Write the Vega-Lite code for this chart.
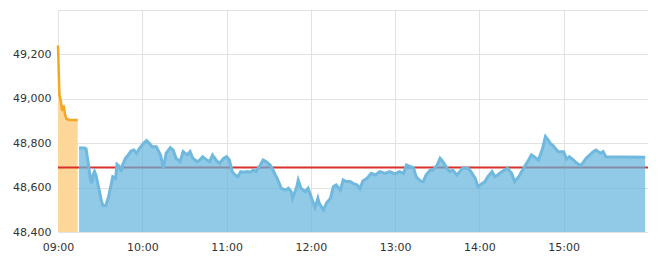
{
  "$schema": "https://vega.github.io/schema/vega-lite/v6.json",
  "autosize": {"type": "none"},
  "width": 590,
  "height": 222,
  "padding": {"left": 58, "top": 10, "right": 14, "bottom": 26},
  "background": "white",
  "config": {
    "view": {"stroke": null},
    "axis": {"labelFont": "DejaVu Sans", "labelFontSize": 11, "labelColor": "#333333", "gridColor": "#e2e2e2", "gridWidth": 1, "domain": false, "ticks": false, "title": null}
  },
  "datasets": {
    "pre": [
      {"t": "2024-01-02T09:00", "v": 49240}, {"t": "2024-01-02T09:01", "v": 49020}, {"t": "2024-01-02T09:02", "v": 48990},
      {"t": "2024-01-02T09:03", "v": 48945}, {"t": "2024-01-02T09:04", "v": 48970}, {"t": "2024-01-02T09:05", "v": 48930},
      {"t": "2024-01-02T09:06", "v": 48910}, {"t": "2024-01-02T09:08", "v": 48905}, {"t": "2024-01-02T09:14", "v": 48905}
    ],
    "ref": [{"v": 48690}],
    "main": [
      {"t": "2024-01-02T09:15", "v": 48780}, {"t": "2024-01-02T09:17", "v": 48778}, {"t": "2024-01-02T09:19", "v": 48778}, {"t": "2024-01-02T09:20", "v": 48774},
      {"t": "2024-01-02T09:22", "v": 48688}, {"t": "2024-01-02T09:23", "v": 48643}, {"t": "2024-01-02T09:24", "v": 48620}, {"t": "2024-01-02T09:25", "v": 48657},
      {"t": "2024-01-02T09:26", "v": 48672}, {"t": "2024-01-02T09:27", "v": 48657}, {"t": "2024-01-02T09:29", "v": 48598}, {"t": "2024-01-02T09:31", "v": 48537},
      {"t": "2024-01-02T09:32", "v": 48519}, {"t": "2024-01-02T09:34", "v": 48519}, {"t": "2024-01-02T09:36", "v": 48559}, {"t": "2024-01-02T09:38", "v": 48619},
      {"t": "2024-01-02T09:39", "v": 48649}, {"t": "2024-01-02T09:41", "v": 48642}, {"t": "2024-01-02T09:42", "v": 48705}, {"t": "2024-01-02T09:44", "v": 48694},
      {"t": "2024-01-02T09:45", "v": 48672}, {"t": "2024-01-02T09:46", "v": 48702}, {"t": "2024-01-02T09:48", "v": 48732}, {"t": "2024-01-02T09:50", "v": 48747},
      {"t": "2024-01-02T09:52", "v": 48765}, {"t": "2024-01-02T09:54", "v": 48769}, {"t": "2024-01-02T09:56", "v": 48755}, {"t": "2024-01-02T09:58", "v": 48777},
      {"t": "2024-01-02T10:01", "v": 48800}, {"t": "2024-01-02T10:03", "v": 48812}, {"t": "2024-01-02T10:05", "v": 48800}, {"t": "2024-01-02T10:07", "v": 48784},
      {"t": "2024-01-02T10:10", "v": 48784}, {"t": "2024-01-02T10:13", "v": 48747}, {"t": "2024-01-02T10:15", "v": 48687}, {"t": "2024-01-02T10:17", "v": 48755},
      {"t": "2024-01-02T10:20", "v": 48780}, {"t": "2024-01-02T10:22", "v": 48769}, {"t": "2024-01-02T10:24", "v": 48732}, {"t": "2024-01-02T10:27", "v": 48717},
      {"t": "2024-01-02T10:29", "v": 48762}, {"t": "2024-01-02T10:32", "v": 48747}, {"t": "2024-01-02T10:34", "v": 48762}, {"t": "2024-01-02T10:36", "v": 48732},
      {"t": "2024-01-02T10:39", "v": 48717}, {"t": "2024-01-02T10:41", "v": 48724}, {"t": "2024-01-02T10:43", "v": 48739}, {"t": "2024-01-02T10:46", "v": 48724},
      {"t": "2024-01-02T10:48", "v": 48717}, {"t": "2024-01-02T10:50", "v": 48747}, {"t": "2024-01-02T10:53", "v": 48720}, {"t": "2024-01-02T10:55", "v": 48710},
      {"t": "2024-01-02T10:58", "v": 48732}, {"t": "2024-01-02T11:00", "v": 48739}, {"t": "2024-01-02T11:02", "v": 48724}, {"t": "2024-01-02T11:04", "v": 48672},
      {"t": "2024-01-02T11:06", "v": 48657}, {"t": "2024-01-02T11:08", "v": 48649}, {"t": "2024-01-02T11:10", "v": 48672}, {"t": "2024-01-02T11:12", "v": 48669},
      {"t": "2024-01-02T11:15", "v": 48672}, {"t": "2024-01-02T11:17", "v": 48669}, {"t": "2024-01-02T11:19", "v": 48679}, {"t": "2024-01-02T11:21", "v": 48672},
      {"t": "2024-01-02T11:24", "v": 48702}, {"t": "2024-01-02T11:26", "v": 48724}, {"t": "2024-01-02T11:28", "v": 48717}, {"t": "2024-01-02T11:31", "v": 48702},
      {"t": "2024-01-02T11:33", "v": 48679}, {"t": "2024-01-02T11:36", "v": 48642}, {"t": "2024-01-02T11:39", "v": 48597}, {"t": "2024-01-02T11:42", "v": 48589},
      {"t": "2024-01-02T11:44", "v": 48597}, {"t": "2024-01-02T11:46", "v": 48582}, {"t": "2024-01-02T11:47", "v": 48552}, {"t": "2024-01-02T11:50", "v": 48604},
      {"t": "2024-01-02T11:51", "v": 48634}, {"t": "2024-01-02T11:53", "v": 48597}, {"t": "2024-01-02T11:56", "v": 48582}, {"t": "2024-01-02T11:58", "v": 48597},
      {"t": "2024-01-02T12:01", "v": 48544}, {"t": "2024-01-02T12:03", "v": 48510}, {"t": "2024-01-02T12:05", "v": 48552}, {"t": "2024-01-02T12:06", "v": 48529},
      {"t": "2024-01-02T12:09", "v": 48499}, {"t": "2024-01-02T12:11", "v": 48529}, {"t": "2024-01-02T12:14", "v": 48552}, {"t": "2024-01-02T12:16", "v": 48604},
      {"t": "2024-01-02T12:18", "v": 48612}, {"t": "2024-01-02T12:21", "v": 48589}, {"t": "2024-01-02T12:23", "v": 48634}, {"t": "2024-01-02T12:25", "v": 48627},
      {"t": "2024-01-02T12:28", "v": 48627}, {"t": "2024-01-02T12:30", "v": 48619}, {"t": "2024-01-02T12:33", "v": 48612}, {"t": "2024-01-02T12:35", "v": 48595},
      {"t": "2024-01-02T12:37", "v": 48630}, {"t": "2024-01-02T12:40", "v": 48642}, {"t": "2024-01-02T12:43", "v": 48664}, {"t": "2024-01-02T12:46", "v": 48657},
      {"t": "2024-01-02T12:49", "v": 48672}, {"t": "2024-01-02T12:53", "v": 48664}, {"t": "2024-01-02T12:56", "v": 48672}, {"t": "2024-01-02T13:00", "v": 48662},
      {"t": "2024-01-02T13:03", "v": 48672}, {"t": "2024-01-02T13:06", "v": 48664}, {"t": "2024-01-02T13:08", "v": 48702}, {"t": "2024-01-02T13:11", "v": 48694},
      {"t": "2024-01-02T13:13", "v": 48690}, {"t": "2024-01-02T13:15", "v": 48649}, {"t": "2024-01-02T13:18", "v": 48630}, {"t": "2024-01-02T13:20", "v": 48627},
      {"t": "2024-01-02T13:22", "v": 48657}, {"t": "2024-01-02T13:25", "v": 48679}, {"t": "2024-01-02T13:27", "v": 48679}, {"t": "2024-01-02T13:30", "v": 48702},
      {"t": "2024-01-02T13:32", "v": 48732}, {"t": "2024-01-02T13:34", "v": 48717}, {"t": "2024-01-02T13:37", "v": 48687}, {"t": "2024-01-02T13:39", "v": 48672},
      {"t": "2024-01-02T13:41", "v": 48679}, {"t": "2024-01-02T13:44", "v": 48657}, {"t": "2024-01-02T13:46", "v": 48672}, {"t": "2024-01-02T13:48", "v": 48687},
      {"t": "2024-01-02T13:52", "v": 48687}, {"t": "2024-01-02T13:54", "v": 48672}, {"t": "2024-01-02T13:57", "v": 48642}, {"t": "2024-01-02T13:59", "v": 48604},
      {"t": "2024-01-02T14:02", "v": 48619}, {"t": "2024-01-02T14:04", "v": 48627}, {"t": "2024-01-02T14:06", "v": 48649}, {"t": "2024-01-02T14:09", "v": 48672},
      {"t": "2024-01-02T14:11", "v": 48649}, {"t": "2024-01-02T14:13", "v": 48657}, {"t": "2024-01-02T14:16", "v": 48672}, {"t": "2024-01-02T14:18", "v": 48679},
      {"t": "2024-01-02T14:20", "v": 48687}, {"t": "2024-01-02T14:23", "v": 48664}, {"t": "2024-01-02T14:25", "v": 48627}, {"t": "2024-01-02T14:28", "v": 48649},
      {"t": "2024-01-02T14:30", "v": 48672}, {"t": "2024-01-02T14:32", "v": 48694}, {"t": "2024-01-02T14:35", "v": 48724}, {"t": "2024-01-02T14:37", "v": 48747},
      {"t": "2024-01-02T14:39", "v": 48739}, {"t": "2024-01-02T14:42", "v": 48724}, {"t": "2024-01-02T14:45", "v": 48777}, {"t": "2024-01-02T14:47", "v": 48830},
      {"t": "2024-01-02T14:49", "v": 48814}, {"t": "2024-01-02T14:51", "v": 48795}, {"t": "2024-01-02T14:52", "v": 48792}, {"t": "2024-01-02T14:56", "v": 48762},
      {"t": "2024-01-02T14:57", "v": 48762}, {"t": "2024-01-02T15:00", "v": 48762}, {"t": "2024-01-02T15:02", "v": 48728}, {"t": "2024-01-02T15:04", "v": 48739},
      {"t": "2024-01-02T15:07", "v": 48724}, {"t": "2024-01-02T15:09", "v": 48712}, {"t": "2024-01-02T15:12", "v": 48699}, {"t": "2024-01-02T15:14", "v": 48715},
      {"t": "2024-01-02T15:16", "v": 48732}, {"t": "2024-01-02T15:19", "v": 48750}, {"t": "2024-01-02T15:21", "v": 48762}, {"t": "2024-01-02T15:23", "v": 48769},
      {"t": "2024-01-02T15:26", "v": 48755}, {"t": "2024-01-02T15:28", "v": 48762}, {"t": "2024-01-02T15:30", "v": 48739}, {"t": "2024-01-02T15:58", "v": 48737}
    ]
  },
  "encoding": {
    "x": {
      "field": "t", "type": "temporal",
      "scale": {"domain": [{"year": 2024, "month": 1, "date": 2, "hours": 9}, {"year": 2024, "month": 1, "date": 2, "hours": 16}]},
      "axis": {
        "values": [
          {"year": 2024, "month": 1, "date": 2, "hours": 9}, {"year": 2024, "month": 1, "date": 2, "hours": 10},
          {"year": 2024, "month": 1, "date": 2, "hours": 11}, {"year": 2024, "month": 1, "date": 2, "hours": 12},
          {"year": 2024, "month": 1, "date": 2, "hours": 13}, {"year": 2024, "month": 1, "date": 2, "hours": 14},
          {"year": 2024, "month": 1, "date": 2, "hours": 15}
        ],
        "format": "%H:%M", "labelPadding": 9, "labelFlush": false, "labelOverlap": false
      }
    },
    "y": {
      "field": "v", "type": "quantitative",
      "scale": {"domain": [48400, 49400], "zero": false, "nice": false},
      "axis": {
        "values": [48400, 48600, 48800, 49000, 49200, 49400],
        "labelExpr": "datum.value >= 49400 ? '' : format(datum.value, ',')",
        "labelPadding": 7, "labelFlush": false, "labelOverlap": false
      }
    }
  },
  "layer": [
    {
      "data": {"name": "pre"},
      "mark": {"type": "area", "color": "#fdd699", "opacity": 1},
      "encoding": {"y2": {"datum": 48400}}
    },
    {
      "data": {"name": "pre"},
      "mark": {"type": "line", "color": "#f5a623", "strokeWidth": 2.5}
    },
    {
      "data": {"name": "ref"},
      "mark": {"type": "rule", "color": "#d8302c", "strokeWidth": 2},
      "encoding": {"x": null, "y": {"field": "v", "type": "quantitative"}}
    },
    {
      "data": {"name": "main"},
      "mark": {"type": "area", "color": "#62b4dc", "fillOpacity": 0.7},
      "encoding": {"y2": {"datum": 48400}}
    },
    {
      "data": {"name": "main"},
      "mark": {"type": "line", "color": "#70b8dd", "strokeWidth": 3}
    }
  ]
}
